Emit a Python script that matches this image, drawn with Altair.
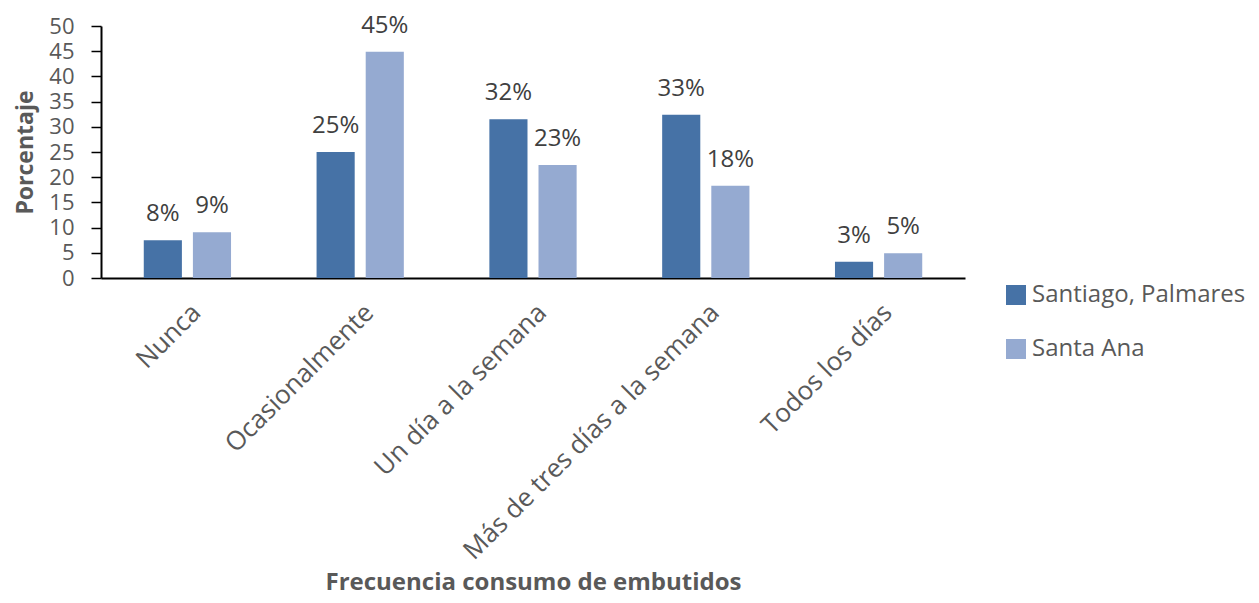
import altair as alt
import pandas as pd

categories = ["Nunca", "Ocasionalmente", "Un día a la semana", "Más de tres días a la semana", "Todos los días"]
series = ["Santiago, Palmares", "Santa Ana"]
santiago = [7.5, 25.0, 31.5, 32.4, 3.2]
santa_ana = [9.1, 44.9, 22.4, 18.3, 4.9]
lab_santiago = ["8%", "25%", "32%", "33%", "3%"]
lab_santa_ana = ["9%", "45%", "23%", "18%", "5%"]
colors = ["#4672A6", "#95AAD1"]

rows = []
for i, c in enumerate(categories):
    rows.append({"cat": c, "serie": series[0], "val": santiago[i], "lab": lab_santiago[i]})
    rows.append({"cat": c, "serie": series[1], "val": santa_ana[i], "lab": lab_santa_ana[i]})
df = pd.DataFrame(rows)

FONT = "Open Sans"
GREY = "#595959"

x_enc = alt.X(
    "cat:N",
    sort=categories,
    scale=alt.Scale(paddingInner=0.495, paddingOuter=0.2475),
    axis=alt.Axis(
        title="Frecuencia consumo de embutidos",
        titleFont=FONT, titleFontSize=24, titleFontWeight="bold", titleColor=GREY,
        titleY=311, titleBaseline="alphabetic",
        labelAngle=-45, labelFont=FONT, labelFontSize=26, labelColor=GREY,
        labelPadding=21, ticks=False, domainColor="#000000", domainWidth=2,
        labelLimit=0,
    ),
)
xoff = alt.XOffset("serie:N", sort=series, scale=alt.Scale(paddingInner=0.224, paddingOuter=0))

y_enc = alt.Y(
    "val:Q",
    scale=alt.Scale(domain=[0, 50], nice=False),
    axis=alt.Axis(
        title="Porcentaje",
        titleFont=FONT, titleFontSize=23, titleFontWeight="bold", titleColor=GREY,
        titleAngle=270, titleX=-64, titleY=126, titleAlign="center", titleBaseline="bottom",
        values=list(range(0, 51, 5)), labelOverlap=False, labelFont=FONT, labelFontSize=22,
        labelColor=GREY, labelPadding=17, tickSize=10, tickColor="#000000", tickWidth=1.5,
        domainColor="#000000", domainWidth=2, grid=False,
    ),
)

base = alt.Chart(df).encode(x=x_enc, xOffset=xoff, y=y_enc)

bars = base.mark_bar().encode(
    color=alt.Color(
        "serie:N", sort=series,
        scale=alt.Scale(domain=series, range=colors),
        legend=alt.Legend(
            title=None, orient="none", legendX=903, legendY=257,
            symbolType="square", symbolSize=400, symbolStrokeWidth=0,
            labelFont=FONT, labelFontSize=24, labelColor=GREY, labelLimit=0,
            rowPadding=30, labelOffset=4, padding=0,
        ),
    ),
)

text = base.mark_text(
    baseline="alphabetic", dy=-19, font=FONT, fontSize=24, color="#404040"
).encode(text="lab:N")

chart = (
    alt.layer(bars, text)
    .properties(
        width=864, height=252,
        background="#ffffff",
        autosize=alt.AutoSizeParams(type="none"),
        padding={"left": 93, "top": 18, "right": 284, "bottom": 317},
    )
    .configure_view(strokeWidth=0, stroke=None)
)

chart.save("out.html", embed_options={"renderer": "svg", "actions": False})
